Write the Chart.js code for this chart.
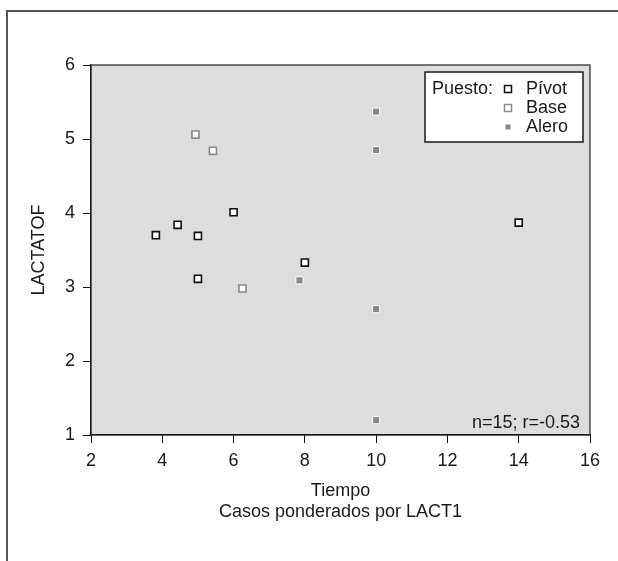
<!DOCTYPE html>
<html>
<head>
<meta charset="utf-8">
<script src="https://cdn.jsdelivr.net/npm/chart.js@4/dist/chart.umd.min.js"></script>
<style>
html,body{margin:0;padding:0;background:#fff;}
canvas{display:block;}
</style>
</head>
<body>
<canvas id="c" width="618" height="561"></canvas>
<script>
// ---- data ----
const seriesNames = ['Pívot', 'Base', 'Alero'];
const pivotX = [3.82, 4.43, 5.0, 5.0, 6.0, 8.0, 14.0];
const pivotY = [3.70, 3.84, 3.69, 3.11, 4.01, 3.33, 3.87];
const baseX  = [4.93, 5.42, 6.25];
const baseY  = [5.06, 4.84, 2.98];
const aleroX = [10.0, 10.0, 10.0, 10.0, 7.85];
const aleroY = [5.37, 4.85, 2.70, 1.20, 3.09];
const xTicks = [2, 4, 6, 8, 10, 12, 14, 16];
const yTicks = [1, 2, 3, 4, 5, 6];
const legendTitle = 'Puesto:';
const xTitle = ['Tiempo', 'Casos ponderados por LACT1'];
const yTitle = 'LACTATOF';
const statText = 'n=15; r=-0.53';

const FONT = "'Liberation Sans', Arial, sans-serif";
const toPts = (xs, ys) => xs.map((x, i) => ({x: x, y: ys[i]}));

const styles = [
  {bg: '#ffffff', border: '#111111', bw: 1.6, r: 5},
  {bg: '#ffffff', border: '#8a8a8a', bw: 1.6, r: 5},
  {bg: '#878787', border: '#ffffff', bw: 1, r: 5}
];

const frame = {
  id: 'frame',
  beforeDraw(chart) {
    const ctx = chart.ctx, a = chart.chartArea;
    ctx.save();
    ctx.fillStyle = '#ffffff';
    ctx.fillRect(0, 0, chart.width, chart.height);
    ctx.strokeStyle = '#555555';
    ctx.lineWidth = 2;
    ctx.beginPath();
    ctx.moveTo(7, chart.height + 5);
    ctx.lineTo(7, 11);
    ctx.lineTo(chart.width + 5, 11);
    ctx.stroke();
    ctx.fillStyle = '#dcdddf';
    ctx.fillRect(a.left, a.top, a.right - a.left, a.bottom - a.top);
    ctx.restore();
  },
  afterDraw(chart) {
    const ctx = chart.ctx, a = chart.chartArea;
    ctx.save();
    ctx.strokeStyle = '#222222';
    ctx.lineWidth = 1.2;
    ctx.strokeRect(a.left, a.top, a.right - a.left, a.bottom - a.top);

    // legend box
    const bx = 425, by = 72, bw = 158, bh = 70;
    ctx.fillStyle = '#ffffff';
    ctx.fillRect(bx, by, bw, bh);
    ctx.strokeStyle = '#1a1a1a';
    ctx.lineWidth = 1.5;
    ctx.strokeRect(bx, by, bw, bh);
    ctx.font = '18px ' + FONT;
    ctx.fillStyle = '#1a1a1a';
    ctx.textBaseline = 'middle';
    ctx.textAlign = 'left';
    ctx.fillText(legendTitle, 432, 89);
    const rows = [89, 108, 127];
    chart.data.datasets.forEach((ds, i) => {
      const y = rows[i];
      const s = i === 2 ? 2.5 : 3.5;
      if (i === 2) {
        ctx.fillStyle = ds.backgroundColor;
        ctx.fillRect(508 - s, y - s, 2 * s, 2 * s);
      } else {
        ctx.fillStyle = '#ffffff';
        ctx.fillRect(508 - s, y - s, 2 * s, 2 * s);
        ctx.strokeStyle = ds.borderColor;
        ctx.lineWidth = 1.5;
        ctx.strokeRect(508 - s, y - s, 2 * s, 2 * s);
      }
      ctx.fillStyle = '#1a1a1a';
      ctx.fillText(ds.label, 526, y);
    });

    // stat annotation
    ctx.textAlign = 'right';
    ctx.fillText(statText, 580, 423);
    ctx.restore();
  }
};

new Chart(document.getElementById('c'), {
  type: 'scatter',
  data: {
    datasets: [
      {label: seriesNames[0], data: toPts(pivotX, pivotY)},
      {label: seriesNames[1], data: toPts(baseX, baseY)},
      {label: seriesNames[2], data: toPts(aleroX, aleroY)}
    ].map((d, i) => Object.assign(d, {
      pointStyle: 'rect',
      pointRadius: styles[i].r,
      pointHoverRadius: styles[i].r,
      backgroundColor: styles[i].bg,
      borderColor: styles[i].border,
      pointBorderWidth: styles[i].bw,
      borderWidth: styles[i].bw
    }))
  },
  options: {
    responsive: false,
    devicePixelRatio: 1,
    animation: false,
    layout: {padding: {top: 65, right: 28, left: 0, bottom: 0}},
    plugins: {legend: {display: false}, tooltip: {enabled: false}},
    scales: {
      x: {
        type: 'linear', min: 2, max: 16,
        afterFit(s) { s.height = 126; },
        afterBuildTicks(s) { s.ticks = xTicks.map(v => ({value: v})); },
        grid: {drawOnChartArea: false, drawTicks: true, tickLength: 8, color: '#111', lineWidth: 1},
        border: {display: true, color: '#111', width: 1.2},
        ticks: {color: '#1a1a1a', padding: 7, font: {family: FONT, size: 18}, maxRotation: 0},
        title: {display: true, text: xTitle, color: '#1a1a1a', padding: {top: 0, bottom: 38}, font: {family: FONT, size: 18, lineHeight: 1.2}}
      },
      y: {
        type: 'linear', min: 1, max: 6,
        afterFit(s) { s.width = 91; },
        afterBuildTicks(s) { s.ticks = yTicks.map(v => ({value: v})); },
        grid: {drawOnChartArea: false, drawTicks: true, tickLength: 8, color: '#111', lineWidth: 1},
        border: {display: true, color: '#111', width: 1.2},
        ticks: {color: '#1a1a1a', padding: 8, font: {family: FONT, size: 18}},
        title: {display: true, text: yTitle, color: '#1a1a1a', padding: {top: 28, bottom: 0}, font: {family: FONT, size: 18, lineHeight: 1.2}}
      }
    }
  },
  plugins: [frame]
});
</script>
</body>
</html>
